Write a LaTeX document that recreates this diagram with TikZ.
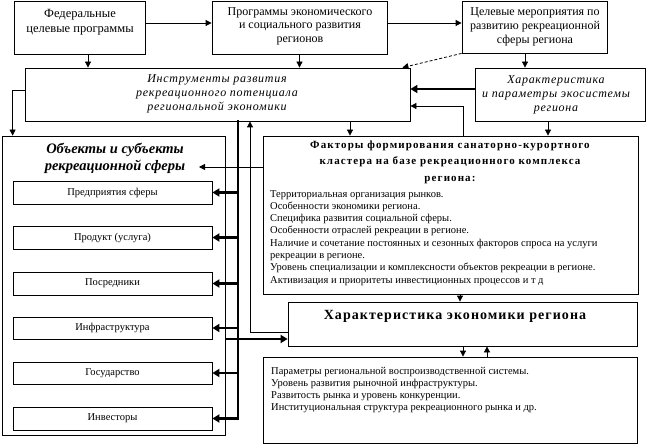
\documentclass[tikz,border=0pt]{standalone}
\usepackage{fontspec}
\setmainfont{Liberation Serif}
\usetikzlibrary{arrows.meta,fit}
\begin{document}
\begin{tikzpicture}[x=1pt,y=-1pt,
  box/.style={draw,line width=0.8pt,inner sep=0pt},
  txt/.style={inner sep=0pt,align=center},
  arr/.style={line width=0.8pt,-{Triangle[length=6pt,width=6pt]}},
  tarr/.style={line width=2.8pt,-{Triangle[length=7pt,width=8pt]}},
  tline/.style={line width=2.8pt,line cap=rect},
]
\useasboundingbox (0,0) rectangle (650,446);
% boxes
\node[box,fit={(14,1)(145,54)}] (b1) {};
\node[box,fit={(212,1)(387,54)}] (b2) {};
\node[box,fit={(462,1)(607,53)}] (b3) {};
\node[box,fit={(25,68)(410,121)}] (b4) {};
\node[box,fit={(475,68)(645,121)}] (b5) {};
\node[box,fit={(263,136)(638,294)}] (b6) {};
\node[box,fit={(288,302)(637,346)}] (b7) {};
\node[box,fit={(263,357)(637,443)}] (b9) {};
\node[box,fit={(2,136)(225,435)}] (b8) {};
\node[box,fit={(13,181)(212,204)}] (s1) {};
\node[box,fit={(13,226)(212,249)}] (s2) {};
\node[box,fit={(13,272)(212,295)}] (s3) {};
\node[box,fit={(13,317)(212,339)}] (s4) {};
\node[box,fit={(13,362)(212,384)}] (s5) {};
\node[box,fit={(13,407)(212,430)}] (s6) {};
% texts
\node[txt,font=\fontsize{12.5}{15}\selectfont] (b1t) at (80,22.5) {Федеральные\\целевые программы};
\node[txt,font=\fontsize{12}{13.5}\selectfont] (b2t) at (300,26) {Программы экономического\\и социального развития\\регионов};
\node[txt,font=\fontsize{12}{14}\selectfont] (b3t) at (535,27) {Целевые мероприятия по\\развитию рекреационной\\сферы региона};
\node[txt,font=\fontsize{12}{14}\selectfont\itshape\addfontfeature{LetterSpace=6}] (b4t) at (217,94) {Инструменты развития\\рекреационного потенциала\\региональной экономики};
\node[txt,font=\fontsize{12}{14}\selectfont\itshape\addfontfeature{LetterSpace=6}] (b5t) at (556,94.5) {Характеристика\\и параметры экосистемы\\региона};
\node[txt,font=\fontsize{14.5}{17}\selectfont\bfseries\itshape] (b8t) at (115,158.5) {Объекты и субъекты\\рекреационной сферы};
\node[txt,font=\fontsize{11}{16.5}\selectfont\bfseries\addfontfeature{LetterSpace=10}] (b6t) at (450,162) {Факторы формирования санаторно-курортного\\кластера на базе рекреационного комплекса\\региона:};
\node[txt,anchor=north west,align=left,font=\fontsize{10.5}{12.3}\selectfont] (b6l) at (270,190) {Территориальная организация рынков.\\Особенности экономики региона.\\Специфика развития социальной сферы.\\Особенности отраслей рекреации в регионе.\\Наличие и сочетание постоянных и сезонных факторов спроса на услуги\\рекреации в регионе.\\Уровень специализации и комплексности объектов рекреации в регионе.\\Активизация и приоритеты  инвестиционных процессов и т д};
\node[txt,font=\fontsize{14}{16}\selectfont\bfseries\addfontfeature{LetterSpace=7.5}] (b7t) at (455,316) {Характеристика экономики региона};
\node[txt,anchor=north west,align=left,font=\fontsize{10.5}{12}\selectfont] (b9l) at (271,367) {Параметры региональной воспроизводственной системы.\\Уровень развития рыночной инфраструктуры.\\Развитость рынка и уровень конкуренции.\\Институциональная структура рекреационного рынка и др.};
\node[txt,font=\fontsize{10.5}{12}\selectfont] (s1t) at (s1) {Предприятия сферы};
\node[txt,font=\fontsize{10.5}{12}\selectfont] (s2t) at (s2) {Продукт (услуга)};
\node[txt,font=\fontsize{10.5}{12}\selectfont] (s3t) at (s3) {Посредники};
\node[txt,font=\fontsize{10.5}{12}\selectfont] (s4t) at (s4) {Инфраструктура};
\node[txt,font=\fontsize{10.5}{12}\selectfont] (s5t) at (s5) {Государство};
\node[txt,font=\fontsize{10.5}{12}\selectfont] (s6t) at (s6) {Инвесторы};
% connectors
\coordinate (bus) at (238,0);
\coordinate (bus2) at (250,0);
\coordinate (t8) at (199,167);
\draw[arr] ([yshift=4.5pt]b1.east) -- ([yshift=4.5pt]b2.west);
\draw[arr] ([yshift=4.5pt]b2.east) -- ([yshift=4.5pt]b2.east -| b3.west);
\draw[arr] ([xshift=8.5pt]b1.south) -- ([xshift=8.5pt]b1.south |- b4.north);
\draw[arr] (b2.south) -- (b2.south |- b4.north);
\draw[arr,densely dashed] (b3.south west) -- ([xshift=-8pt]b4.north east);
\draw[arr] ([xshift=-9.5pt]b3.south) -- ([xshift=-9.5pt]b3.south |- b5.north);
\draw[tarr] ([yshift=5.5pt]b5.west) -- ([yshift=5.5pt]b4.east);
\draw[arr] ([xshift=12.5pt]b6.north) |- ([yshift=-11.5pt]b4.east);
\draw[arr] ([xshift=132.5pt]b4.south) -- ([xshift=132.5pt]b4.south |- b6.north);
\draw[arr] ([xshift=-12pt]b5.south) -- ([xshift=-12pt]b5.south |- b6.north);
\draw[arr] ([yshift=4.5pt]b4.west) -| ([xshift=11pt]b8.north west);
\draw[arr] ([yshift=48pt]b6.west) -- (t8);
\draw[tline] (b4.south -| bus) -- (s6.east -| bus);
\foreach \s in {s1,s2,s3,s4,s5,s6}{\draw[tarr] (\s.east -| bus) -- (\s.east);}
\draw[tarr] ([yshift=-15pt]b7.west -| b8.east) -- ([yshift=-15pt]b7.west);
\draw[arr] ([yshift=-8pt]b7.west) -| (b4.south -| bus2);
\draw[arr] ([xshift=9.5pt]b6.south) -- ([xshift=9.5pt]b6.south |- b7.north);
\draw[arr] ([xshift=0.5pt]b7.south) -- ([xshift=0.5pt]b7.south |- b9.north);
\draw[arr] ([xshift=24.5pt]b7.south |- b9.north) -- ([xshift=24.5pt]b7.south);
\end{tikzpicture}
\end{document}
